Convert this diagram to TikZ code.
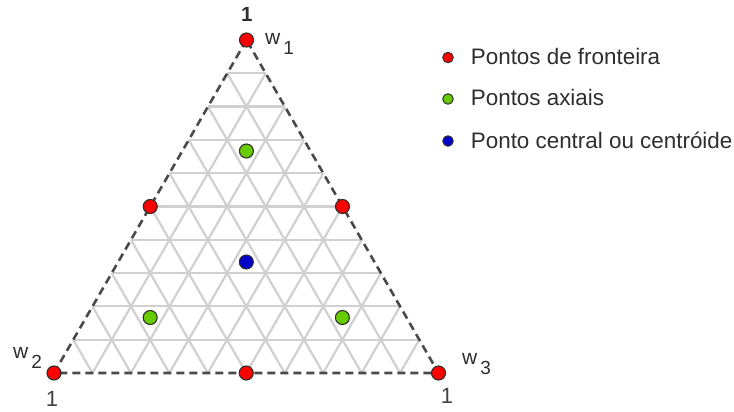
\documentclass[tikz,border=0pt]{standalone}
\usepackage{fontspec}
\setmainfont{Liberation Sans}
\usetikzlibrary{calc}
\definecolor{simred}{HTML}{FF0000}
\definecolor{simgreen}{HTML}{66CC00}
\definecolor{simblue}{HTML}{0000CC}
\definecolor{simink}{HTML}{2E2E2E}
\definecolor{simside}{HTML}{4A4A4A}
\definecolor{simmesh}{HTML}{D0D0D0}
\newcommand{\wlab}[1]{w\kern3pt\raisebox{-10pt}{\fontsize{19}{19}\selectfont #1}}
\tikzset{
  mesh/.style={draw=simmesh, line width=2.2pt},
  side/.style={draw=simside, line width=2.6pt, dash pattern=on 8pt off 5pt},
  bnd/.style={circle, draw=simink, line width=1.1pt, minimum size=14pt, inner sep=0pt, fill=simred},
  axl/.style={bnd, fill=simgreen},
  cen/.style={bnd, fill=simblue},
  lgd/.style={circle, draw=simink, line width=1pt, minimum size=10.5pt, inner sep=0pt},
  lbl/.style={font=\fontsize{22.4}{26}\selectfont, text=simink, inner sep=0pt, anchor=base west},
  vlab/.style={font=\fontsize{21}{24}\selectfont, text=simink, inner sep=0pt, anchor=base west},
  one/.style={font=\fontsize{22}{24}\selectfont, text=simink!90, inner sep=0pt, anchor=base},
}
\begin{document}
\begin{tikzpicture}[x=1pt, y=-1pt]
  \useasboundingbox (0,0) rectangle (734,412);
  \coordinate (T) at (246.5,40);
  \coordinate (L) at (54,373);
  \coordinate (R) at (438.5,373);
  \foreach \k in {1,...,9} {
    \draw[mesh] ($(T)!\k/10!(L)$) -- ($(T)!\k/10!(R)$);
    \draw[mesh] ($(L)!\k/10!(R)$) -- ($(T)!\k/10!(R)$);
    \draw[mesh] ($(L)!\k/10!(R)$) -- ($(L)!\k/10!(T)$);
  }
  \draw[side] (T) -- (L) -- (R) -- cycle;
  \node[bnd] (v1) at (T) {};
  \node[bnd] (v2) at (L) {};
  \node[bnd] (v3) at (R) {};
  \node[bnd] (m12) at ($(T)!0.5!(L)$) {};
  \node[bnd] (m13) at ($(T)!0.5!(R)$) {};
  \node[bnd] (m23) at ($(L)!0.5!(R)$) {};
  \node[axl] (a1) at ($(T)!1/3!(m23)$) {};
  \node[axl] (a2) at ($(L)!1/3!(m13)$) {};
  \node[axl] (a3) at ($(R)!1/3!(m12)$) {};
  \node[cen] (c) at ($(T)!2/3!(m23)$) {};
  \node[one, font=\fontsize{20.5}{22}\selectfont\bfseries, text=simink] (n1) at (246.7,22) {1};
  \node[one] (n2) at (52,406.5) {1};
  \node[one] (n3) at (447,403) {1};
  \node[vlab] (w1) at (265,45) {\wlab{1}};
  \node[vlab] (w2) at (13,358) {\wlab{2}};
  \node[vlab] (w3) at (462,364) {\wlab{3}};
  \node[lgd, fill=simred] (k1) at (448,57.5) {};
  \node[lgd, fill=simgreen] (k2) at (448,99) {};
  \node[lgd, fill=simblue] (k3) at (448,141) {};
  \node[lbl] (t1) at ($(k1.center)+(22.7,7.5)$) {Pontos de fronteira};
  \node[lbl] (t2) at ($(k2.center)+(22.7,6.5)$) {Pontos axiais};
  \node[lbl] (t3) at ($(k3.center)+(22.7,7)$) {Ponto central ou centróide};
\end{tikzpicture}
\end{document}
